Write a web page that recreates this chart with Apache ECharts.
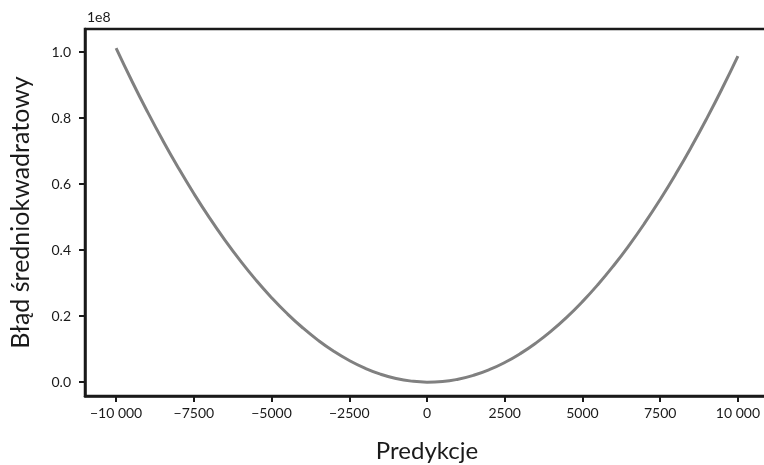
<!DOCTYPE html>
<html>
<head>
<meta charset="utf-8">
<script src="https://cdn.jsdelivr.net/npm/echarts@6/dist/echarts.min.js"></script>
<style>
  html, body { margin: 0; padding: 0; background: #fff; }
  #chart { width: 764px; height: 465px; }
</style>
</head>
<body>
<div id="chart"></div>
<script>
// predykcje (x) i błąd średniokwadratowy w jednostkach 1e8 (y)
var predictions = [-10000, -9500, -9000, -8500, -8000, -7500, -7000, -6500, -6000, -5500,
  -5000, -4500, -4000, -3500, -3000, -2500, -2000, -1500, -1000, -500,
  0, 500, 1000, 1500, 2000, 2500, 3000, 3500, 4000, 4500,
  5000, 5500, 6000, 6500, 7000, 7500, 8000, 8500, 9000, 9500, 10000];
var mse1e8 = [1.0120, 0.9139, 0.8208, 0.7327, 0.6496, 0.5715, 0.4984, 0.4303, 0.3672, 0.3091,
  0.2560, 0.2079, 0.1648, 0.1267, 0.0936, 0.0655, 0.0424, 0.0243, 0.0112, 0.0031,
  0.0000, 0.0019, 0.0088, 0.0207, 0.0376, 0.0595, 0.0864, 0.1183, 0.1552, 0.1971,
  0.2440, 0.2959, 0.3528, 0.4147, 0.4816, 0.5535, 0.6304, 0.7123, 0.7992, 0.8911, 0.9880];
var xTicks = [-10000, -7500, -5000, -2500, 0, 2500, 5000, 7500, 10000];
var yTicks = [0, 0.2, 0.4, 0.6, 0.8, 1.0];

var font = 'Lato';
var ink = '#1a1a1a';

function fmtX(v) {
  var a = Math.abs(v);
  var s = a >= 10000 ? Math.floor(a / 1000) + ' ' + String(a % 1000).padStart(3, '0') : String(a);
  return (v < 0 ? '\u2212' : '') + s;
}

var points = predictions.map(function (x, i) { return [x, mse1e8[i]]; });

var myChart = echarts.init(document.getElementById('chart'));
myChart.setOption({
  animation: false,
  title: {
    text: '1e8',
    left: 82,
    top: 5,
    textStyle: { fontFamily: font, fontSize: 14, fontWeight: 'normal', color: ink }
  },
  grid: {
    left: 85,
    top: 29,
    height: 367,
    width: 684,
    containLabel: false,
    outerBoundsMode: 'none',
    show: true,
    borderColor: ink,
    borderWidth: 2.5
  },
  xAxis: {
    type: 'value',
    min: -11000,
    max: 11000,
    name: 'Predykcje',
    nameLocation: 'middle',
    nameGap: 43,
    nameTextStyle: { fontFamily: font, fontSize: 24, color: ink },
    axisLine: { show: true, onZero: false, lineStyle: { color: ink, width: 2.5 } },
    axisTick: { show: true, length: 6, lineStyle: { color: ink, width: 2 }, customValues: xTicks },
    axisLabel: {
      fontFamily: font, fontSize: 14, color: ink, margin: 10,
      customValues: xTicks,
      formatter: fmtX
    },
    splitLine: { show: false }
  },
  yAxis: {
    type: 'value',
    min: -0.042,
    max: 1.07,
    name: 'Błąd średniokwadratowy',
    nameLocation: 'middle',
    nameGap: 52,
    nameTextStyle: { fontFamily: font, fontSize: 25, color: ink },
    axisLine: { show: true, onZero: false, lineStyle: { color: ink, width: 2.5 } },
    axisTick: { show: true, length: 6, lineStyle: { color: ink, width: 2 }, customValues: yTicks },
    axisLabel: {
      fontFamily: font, fontSize: 14, color: ink, margin: 14,
      customValues: yTicks,
      formatter: function (v) { return v.toFixed(1); }
    },
    splitLine: { show: false }
  },
  series: [{
    type: 'line',
    data: points,
    symbol: 'none',
    smooth: true,
    lineStyle: { color: '#808080', width: 3 }
  }]
});
</script>
</body>
</html>
